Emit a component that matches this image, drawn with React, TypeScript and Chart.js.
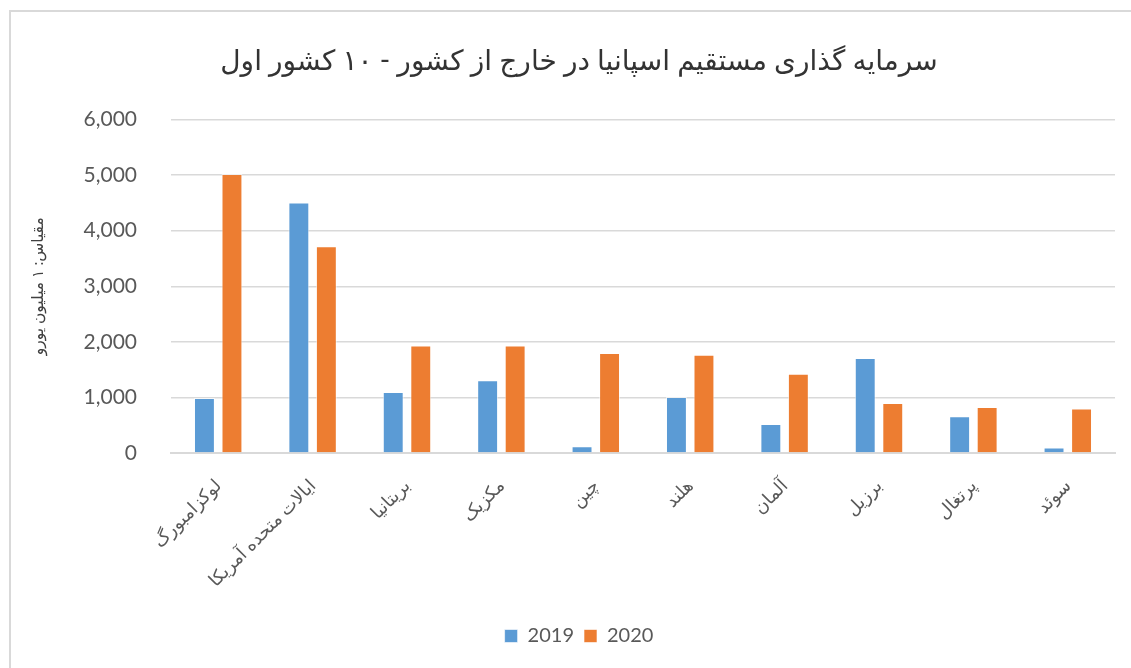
import React, { useEffect, useRef } from "react";
import { Chart, registerables } from "chart.js";

Chart.register(...registerables);

const titleText = "سرمایه گذاری مستقیم اسپانیا در خارج از کشور - ۱۰ کشور اول";
const yAxisTitle = "مقیاس: ۱ میلیون یورو";
const categories = [
  "لوکزامبورگ",
  "ایالات متحده آمریکا",
  "بریتانیا",
  "مکزیک",
  "چین",
  "هلند",
  "آلمان",
  "برزیل",
  "پرتغال",
  "سوئد",
];
const values2019 = [990, 4510, 1100, 1310, 120, 1010, 520, 1710, 660, 100];
const values2020 = [5020, 3720, 1935, 1935, 1800, 1770, 1425, 900, 830, 800];
const seriesLabels = ["2019", "2020"];
const yMin = 0;
const yMax = 6000;
const yStep = 1000;

const FONT = "Lato, 'DejaVu Sans', sans-serif";

export default function App() {
  const ref = useRef<HTMLCanvasElement | null>(null);

  useEffect(() => {
    if (!ref.current) return;
    const chart = new Chart(ref.current, {
      type: "bar",
      data: {
        labels: categories,
        datasets: [
          {
            label: seriesLabels[0],
            data: values2019,
            backgroundColor: "#5B9BD5",
            borderColor: "rgba(255,255,255,0.6)",
            borderWidth: 1,
            categoryPercentage: 0.583,
            barPercentage: 0.76,
          },
          {
            label: seriesLabels[1],
            data: values2020,
            backgroundColor: "#ED7D31",
            borderColor: "rgba(255,255,255,0.6)",
            borderWidth: 1,
            categoryPercentage: 0.583,
            barPercentage: 0.76,
          },
        ],
      },
      options: {
        responsive: false,
        animation: false,
        layout: { padding: { left: 43, right: 16, top: 0, bottom: 12 } },
        plugins: {
          title: {
            display: true,
            text: titleText,
            color: "#333333",
            font: { family: FONT, size: 28, weight: "normal" },
            padding: { top: 44, bottom: 42 },
          },
          legend: {
            position: "bottom",
            labels: {
              boxWidth: 13,
              boxHeight: 13,
              color: "#595959",
              font: { family: FONT, size: 20 },
              padding: 10,
            },
          },
          tooltip: { enabled: false },
        },
        scales: {
          x: {
            grid: { display: false },
            border: { display: true, color: "#d9d9d9", width: 2 },
            ticks: {
              color: "#595959",
              font: { family: FONT, size: 18 },
              minRotation: 45,
              maxRotation: 45,
              autoSkip: false,
              padding: 14,
            },
            afterFit: (scale: any) => {
              scale.height = 163;
            },
          },
          y: {
            min: yMin,
            max: yMax,
            ticks: {
              stepSize: yStep,
              color: "#595959",
              font: { family: FONT, size: 21 },
              padding: 34,
              callback: (v: any) => Number(v).toLocaleString("en-US"),
            },
            grid: { color: "#d9d9d9", lineWidth: 1.5, drawTicks: false },
            border: { display: false },
            title: {
              display: true,
              text: yAxisTitle,
              color: "#404040",
              font: { family: FONT, size: 15.5 },
              padding: { top: -14, bottom: 0 },
            },
            afterFit: (scale: any) => {
              scale.width = 128;
            },
          },
        },
      },
    });
    return () => chart.destroy();
  }, []);

  return (
    <div style={{ position: "fixed", left: 0, top: 0, width: 1131, height: 668, background: "#fff", overflow: "hidden" }}>
      <div
        style={{
          position: "absolute",
          left: 9,
          top: 10,
          right: -10,
          bottom: -10,
          borderLeft: "2px solid #d9d9d9",
          borderTop: "2px solid #d9d9d9",
        }}
      />
      <canvas ref={ref} width={1131} height={668} style={{ position: "absolute", left: 0, top: 0, display: "block" }} />
    </div>
  );
}
